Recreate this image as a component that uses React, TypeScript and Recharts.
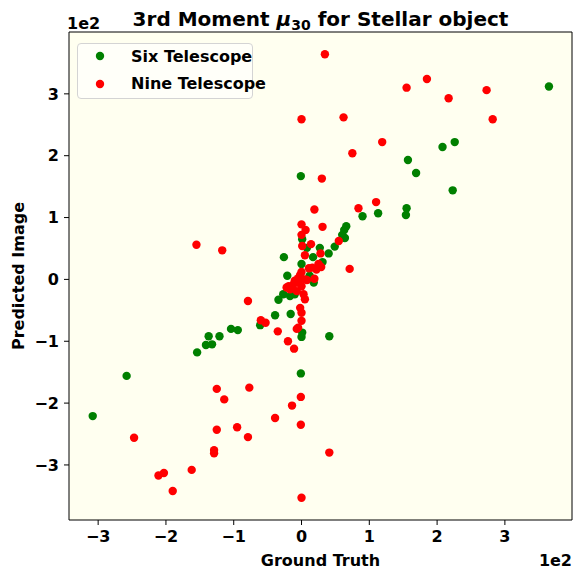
import { ScatterChart, Scatter, XAxis, YAxis, CartesianGrid, Legend, Label, ReferenceLine } from "recharts";

const FONT = "'DejaVu Sans', sans-serif";

// values in units of 1e2
const sixTelescope: [number, number][] = [
  [3.65, 3.12], [-0.01, 1.67], [1.57, 1.93], [1.69, 1.72], [2.08, 2.14], [2.26, 2.22],
  [2.23, 1.44], [1.55, 1.15], [1.54, 1.04], [1.13, 1.07], [0.9, 1.02], [0.66, 0.86],
  [0.63, 0.8], [0.6, 0.72], [0.64, 0.67], [0.01, 0.65], [0.49, 0.53], [0.08, 0.51],
  [0.27, 0.51], [0.4, 0.42], [-0.26, 0.36], [0.17, 0.36], [0.0, 0.25], [0.31, 0.28],
  [-0.21, 0.06], [0.12, 0.06], [0.18, -0.05], [-0.27, -0.24], [-0.17, -0.27], [-0.34, -0.33],
  [-0.1, -0.24], [-0.39, -0.58], [-0.16, -0.56], [-0.61, -0.74], [-0.94, -0.82], [-1.04, -0.8],
  [-1.37, -0.92], [-1.21, -0.92], [-1.41, -1.06], [-1.32, -1.05], [-1.54, -1.18], [-2.58, -1.56],
  [-3.08, -2.21], [0.01, -0.86], [0.0, -0.93], [0.41, -0.92], [-0.01, -1.52],
];

const nineTelescope: [number, number][] = [
  [0.345, 3.64], [1.85, 3.24], [1.55, 3.1], [2.73, 3.06], [2.17, 2.93], [0.0, 2.59],
  [0.62, 2.62], [2.82, 2.59], [1.19, 2.22], [0.75, 2.04], [0.3, 1.63], [0.19, 1.13],
  [0.84, 1.15], [1.1, 1.25], [0.0, 0.89], [0.31, 0.85], [0.06, 0.8], [0.0, 0.72],
  [0.55, 0.62], [0.14, 0.57], [0.01, 0.54], [0.28, 0.42], [0.05, 0.39], [0.25, 0.25],
  [0.16, 0.19], [0.11, 0.18], [0.29, 0.2], [0.71, 0.17], [0.19, 0.01], [-0.02, 0.07],
  [0.0, 0.12], [-0.05, 0.02], [-0.1, -0.02], [0.05, 0.0], [-0.19, -0.11], [-0.12, -0.08],
  [-0.05, -0.05], [0.0, -0.11], [-0.07, -0.19], [-0.17, -0.16], [0.03, -0.24], [0.05, -0.32],
  [-0.02, -0.46], [0.0, -0.54], [0.0, -0.67], [-0.05, -0.78], [-0.07, -0.8], [-0.79, -0.35],
  [-0.6, -0.66], [-0.53, -0.7], [-0.35, -0.84], [-0.2, -1.0], [-0.11, -1.12], [-0.77, -1.75],
  [-0.01, -1.9], [-0.14, -2.04], [-1.55, 0.56], [-1.17, 0.47], [-1.25, -1.77], [-1.14, -1.94],
  [-0.39, -2.24], [-0.01, -2.35], [-1.25, -2.43], [-0.95, -2.39], [-0.79, -2.55], [-2.47, -2.56],
  [-1.29, -2.76], [-1.29, -2.81], [-1.62, -3.08], [-2.11, -3.17], [-2.03, -3.13], [-1.9, -3.42],
  [0.0, -3.53], [0.41, -2.8], [0.22, 0.16], [0.08, -0.01], [-0.22, -0.13],
];

const seriesNames = ["Six Telescope", "Nine Telescope"];
const ticks = [-3, -2, -1, 0, 1, 2, 3];
const xDomain = [-3.43, 3.99];
const yDomain = [-3.89, 4.0];

const toPoints = (rows: [number, number][]) => rows.map(([x, y]) => ({ x, y }));

const fmt = (v: number) => (v < 0 ? "\u2212" + Math.abs(v) : String(v));

const dot = (color: string) => (p: any) => <circle cx={p.cx} cy={p.cy} r={4.2} fill={color} />;

const tickStyle = { fontFamily: FONT, fontWeight: "bold", fontSize: 16, fill: "#000" };

const LegendBox = (props: any) => {
  const items = [...(props.payload || [])].sort(
    (a: any, b: any) => seriesNames.indexOf(a.value) - seriesNames.indexOf(b.value)
  );
  return (
    <div
      style={{
        width: 176,
        height: 56,
        boxSizing: "border-box",
        border: "1px solid #d4d4d4",
        borderRadius: 4,
        background: "rgba(255,255,255,0.6)",
        position: "relative",
        fontFamily: FONT,
        fontWeight: "bold",
        fontSize: 16,
        color: "#000",
      }}
    >
      {items.map((it: any, i: number) => (
        <div key={it.value} style={{ position: "absolute", left: 0, top: 2 + i * 27.6, height: 20, display: "flex", alignItems: "center" }}>
          <svg width={46} height={20}>
            <circle cx={22} cy={10} r={4.2} fill={it.color} />
          </svg>
          <span style={{ marginLeft: 7, whiteSpace: "nowrap" }}>{it.value}</span>
        </div>
      ))}
    </div>
  );
};

export default function App() {
  return (
    <div style={{ position: "absolute", left: 0, top: 0 }}>
      <ScatterChart width={573} height={574} margin={{ top: 32, right: 1, bottom: 0, left: 0 }}>
        <CartesianGrid fill="#fffff0" stroke="none" horizontal={false} vertical={false} />
        <XAxis
          type="number"
          dataKey="x"
          domain={xDomain}
          ticks={ticks}
          allowDataOverflow
          height={54}
          tickFormatter={fmt}
          tick={tickStyle}
          tickSize={5}
          tickMargin={6}
          stroke="#000"
          tickLine={{ stroke: "#000" }}
          axisLine={{ stroke: "#000" }}
        >
          <Label
            content={(p: any) => (
              <text x={p.viewBox.x + p.viewBox.width / 2} y={566} textAnchor="middle" style={tickStyle}>
                Ground Truth
              </text>
            )}
          />
          <Label
            content={(p: any) => (
              <text x={p.viewBox.x + p.viewBox.width} y={566} textAnchor="end" style={tickStyle}>
                1e2
              </text>
            )}
          />
          <Label
            content={(p: any) => (
              <text x={p.viewBox.x + p.viewBox.width / 2} y={26} textAnchor="middle" style={{ ...tickStyle, fontSize: 20 }}>
                3rd Moment <tspan fontStyle="italic">μ</tspan>
                <tspan fontSize={14} dy={4}>30</tspan>
                <tspan dy={-4}> for Stellar object</tspan>
              </text>
            )}
          />
        </XAxis>
        <YAxis
          type="number"
          dataKey="y"
          domain={yDomain}
          ticks={ticks}
          allowDataOverflow
          width={69}
          tickFormatter={fmt}
          tick={tickStyle}
          tickSize={5}
          tickMargin={5}
          stroke="#000"
          tickLine={{ stroke: "#000" }}
          axisLine={{ stroke: "#000" }}
        >
          <Label
            content={(p: any) => (
              <text
                x={18}
                y={p.viewBox.y + p.viewBox.height / 2}
                textAnchor="middle"
                dominantBaseline="central"
                transform={`rotate(-90, 18, ${p.viewBox.y + p.viewBox.height / 2})`}
                style={tickStyle}
              >
                Predicted Image
              </text>
            )}
          />
          <Label
            content={(p: any) => (
              <text x={67} y={p.viewBox.y - 3} textAnchor="start" style={tickStyle}>
                1e2
              </text>
            )}
          />
        </YAxis>
        <ReferenceLine y={yDomain[1]} stroke="#000" strokeWidth={1} />
        <ReferenceLine x={xDomain[1]} stroke="#000" strokeWidth={1} />
        <Legend
          layout="vertical"
          align="center"
          verticalAlign="middle"
          wrapperStyle={{ left: 77, top: 43 }}
          content={<LegendBox />}
        />
        <Scatter name="Six Telescope" data={toPoints(sixTelescope)} fill="#008000" legendType="circle" shape={dot("#008000")} isAnimationActive={false} />
        <Scatter name="Nine Telescope" data={toPoints(nineTelescope)} fill="#ff0000" legendType="circle" shape={dot("#ff0000")} isAnimationActive={false} />
      </ScatterChart>
    </div>
  );
}
